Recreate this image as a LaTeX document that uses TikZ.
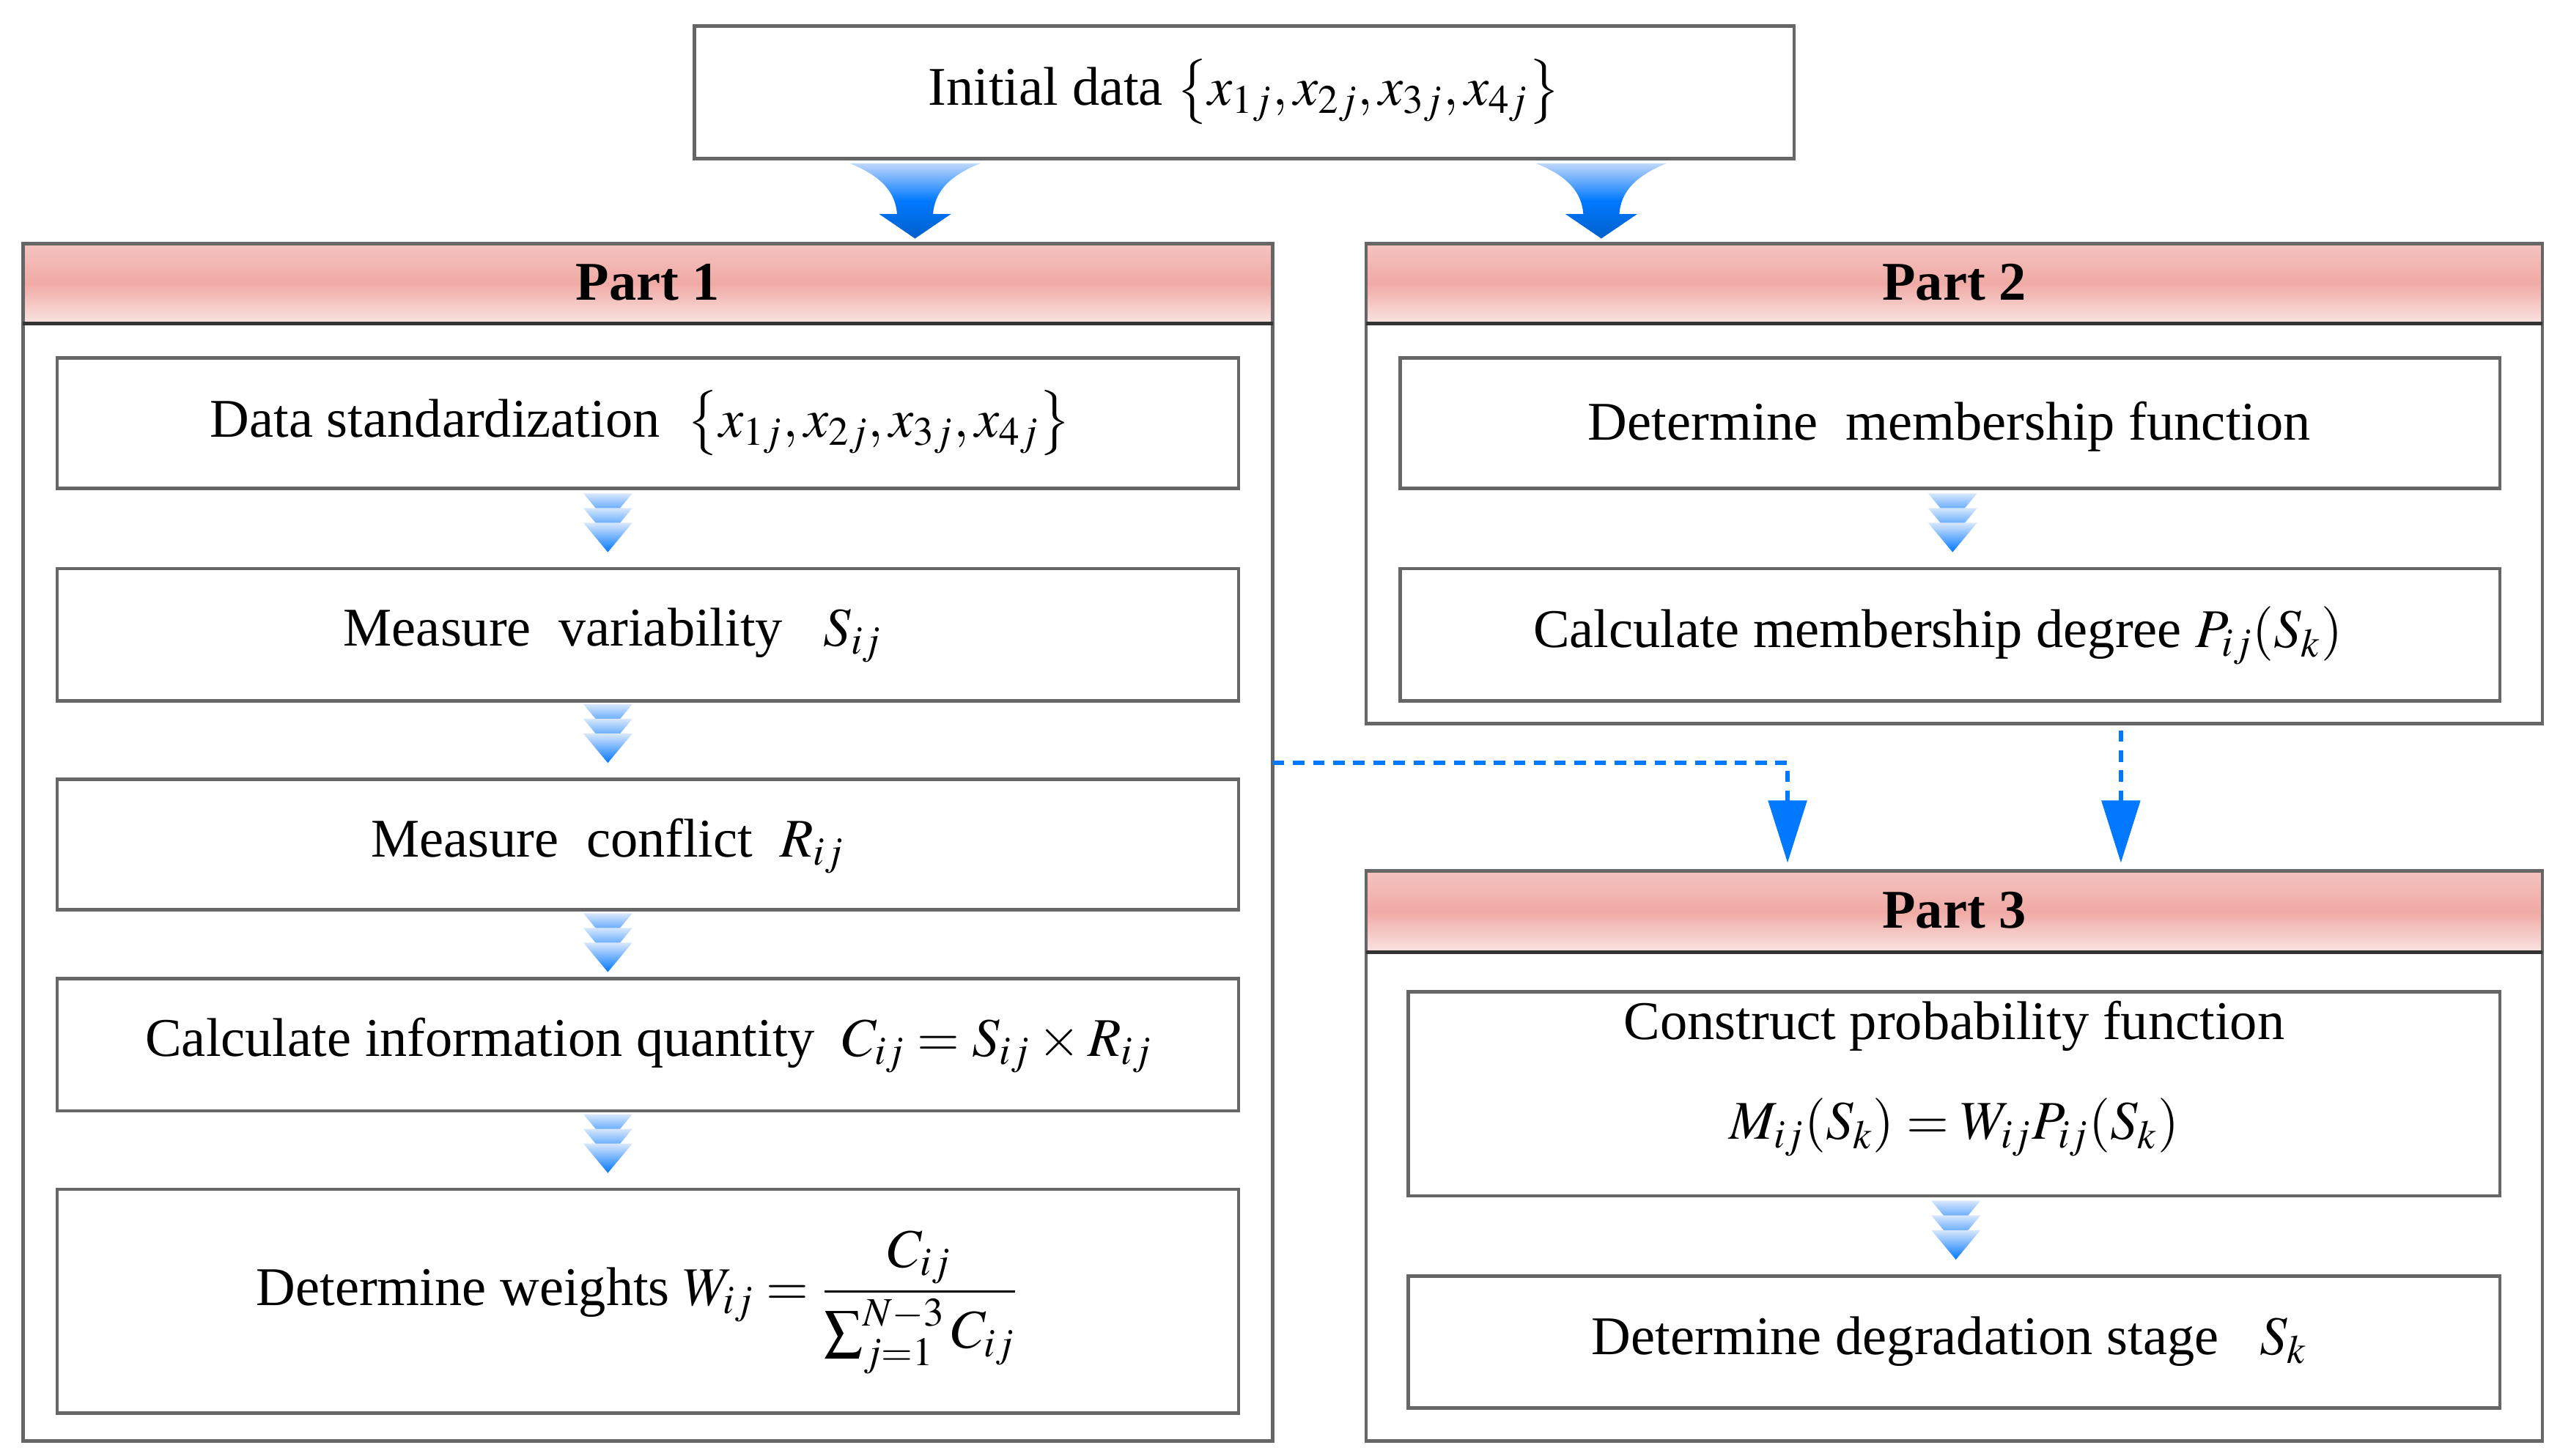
\documentclass[tikz,border=0pt]{standalone}
\usepackage{mathptmx}
\usepackage{fontspec}
\setmainfont{Liberation Serif}
\usetikzlibrary{arrows.meta}
\definecolor{hdr}{RGB}{240,170,165}
\definecolor{hdrl}{RGB}{250,228,226}
\definecolor{ablue}{RGB}{0,120,255}
\definecolor{lblue}{RGB}{190,215,250}
\newcommand\mychev[2]{%
 \foreach \k in {0,1,2}{
  \shade[top color=lblue!60!white,bottom color=ablue] (#1-15,#2+\k*9) -- (#1+15,#2+\k*9) -- (#1,#2+\k*9+18) -- cycle;}}
\newcommand\mybig[2]{%
 \shade[top color=lblue,bottom color=ablue!80!black,middle color=ablue] (#1-40,#2) -- (#1+40,#2) .. controls (#1+20,#2+8) and (#1+12,#2+18) .. (#1+11,#2+31) -- (#1+22,#2+31) -- (#1,#2+46) -- (#1-22,#2+31) -- (#1-11,#2+31) .. controls (#1-12,#2+18) and (#1-20,#2+8) .. (#1-40,#2) -- cycle;}
\begin{document}
\begin{tikzpicture}[x=0.02cm,y=-0.02cm,
 box/.style={draw=black!60,line width=1.2pt,fill=white,inner sep=0pt},
 txt/.style={font=\fontsize{19}{23}\selectfont,inner sep=0pt},
 hd/.style={font=\bfseries\fontsize{19}{23}\selectfont,inner sep=0pt},
 bluedash/.style={draw=ablue,line width=1.6pt,dash pattern=on 4pt off 3pt}]
\useasboundingbox (0,0) rectangle (1560,890.8);
% initial
\draw[box] (425,16) rectangle (1098,97);
\node[txt] (init) at (761.5,56) {Initial data $\left\{x_{1j},x_{2j},x_{3j},x_{4j}\right\}$};
\mybig{560}{100}
\mybig{980}{100}
% parts
\foreach \a/\b/\c/\d/\e in {14/149/779/882/198, 836/149/1556/443/198, 836/533/1556/882/583}{
 \draw[box] (\a,\b) rectangle (\c,\d);
 \shade[top color=hdr!70,bottom color=hdrl,middle color=hdr] (\a,\b) rectangle (\c,\e);
 \draw[black!60,line width=1.2pt] (\a,\b) rectangle (\c,\d);
 \draw[black!80,line width=1.2pt] (\a,\e) -- (\c,\e);}
\node[hd] (p1) at (396.5,173) {Part 1};
\node[hd] (p2) at (1196,173) {Part 2};
\node[hd] (p3) at (1196,557) {Part 3};
% part1 boxes
\foreach \t/\bb in {219/299,348/429,477/557,599/680,728/865}{\draw[box] (35,\t) rectangle (758,\bb);}
\node[txt] (a1) at (392,259) {Data standardization \ $\left\{x_{1j},x_{2j},x_{3j},x_{4j}\right\}$};
\node[txt] (a2) at (375,389) {Measure \ variability \ \ $S_{ij}$};
\node[txt] (a3) at (372,518) {Measure \ conflict \ $R_{ij}$};
\node[txt] (a4) at (397,640) {Calculate information quantity \ $C_{ij}=S_{ij}\times R_{ij}$};
\node[txt] (a5) at (390,797) {Determine weights $\displaystyle W_{ij}=\frac{C_{ij}}{\sum_{j=1}^{N-3}C_{ij}}$};
\mychev{372}{302}\mychev{372}{431}\mychev{372}{559}\mychev{372}{682}
% part2
\draw[box] (857,219) rectangle (1530,299);
\draw[box] (857,348) rectangle (1530,429);
\node[txt] (b1) at (1193,261) {Determine \ membership function};
\node[txt] (b2) at (1186,389) {Calculate membership degree $P_{ij}(S_k)$};
\mychev{1195}{302}
% part3
\draw[box] (862,607) rectangle (1530,732);
\draw[box] (862,781) rectangle (1530,862);
\node[txt] (c1) at (1196,628) {Construct probability function};
\node[txt] (c1b) at (1196,690) {$M_{ij}(S_k)=W_{ij}P_{ij}(S_k)$};
\node[txt] (c2) at (1193,821) {Determine degradation stage \ \ $S_k$};
\mychev{1197}{735}
% dashed connectors
\coordinate (d1) at (779,467);
\coordinate (d2) at (1094,467);
\coordinate (d3) at (1094,528);
\coordinate (e1) at (1298,447);
\coordinate (e2) at (1298,528);
\draw[bluedash] (d1) -- (d2) -- (1094,500);
\draw[bluedash] (e1) -- (1298,500);
\fill[ablue] (1082,490) -- (1106,490) -- (d3) -- cycle;
\fill[ablue] (1286,490) -- (1310,490) -- (e2) -- cycle;
\end{tikzpicture}
\end{document}
